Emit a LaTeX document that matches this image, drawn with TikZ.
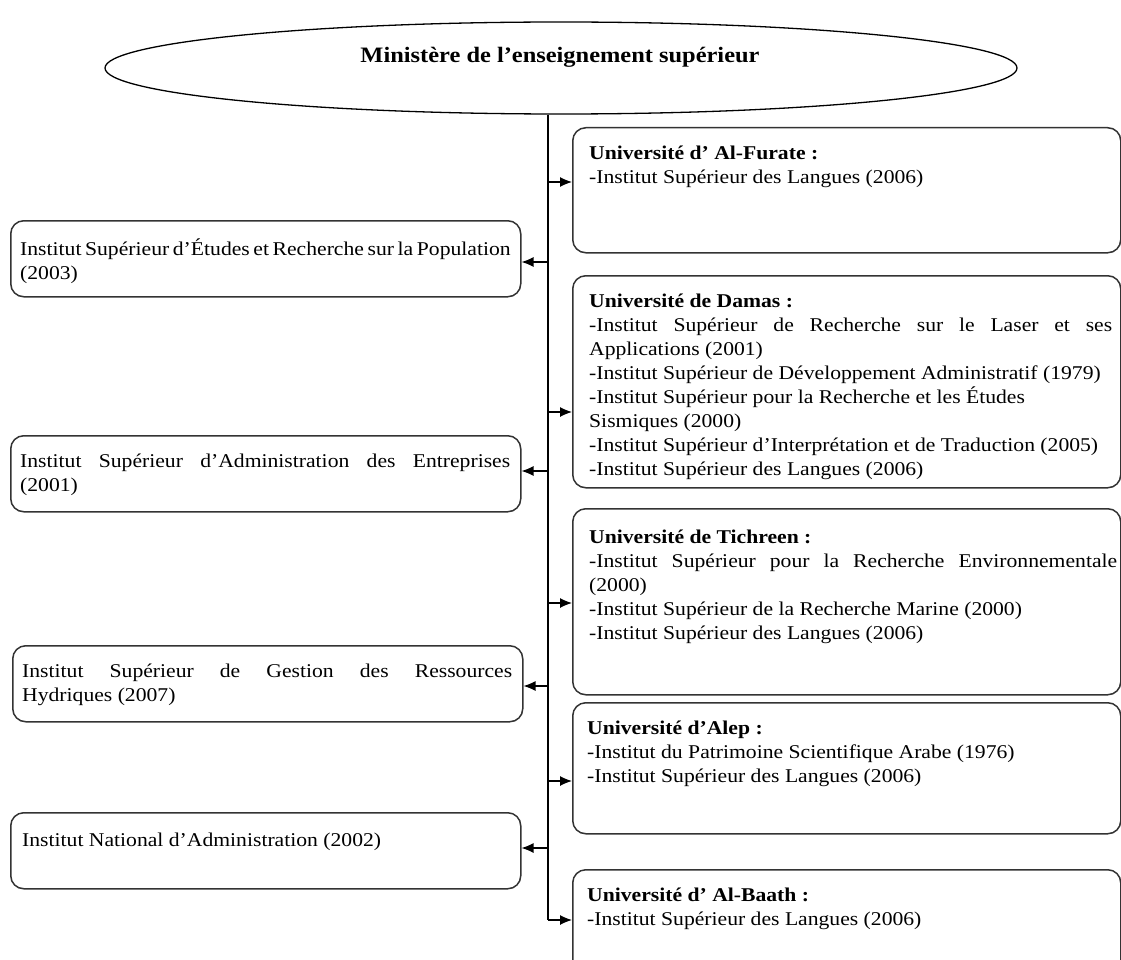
\documentclass[tikz,border=0pt]{standalone}
\usepackage{fontspec}
\setmainfont{Liberation Serif}[FakeStretch=1.11]
\usetikzlibrary{arrows.meta,shapes.geometric}
\begin{document}
\begin{tikzpicture}[x=1pt,y=-1pt,
  box/.style={draw=black!80,line width=1.5pt,rounded corners=13pt,inner sep=0pt,anchor=north west},
  txt/.style={anchor=north west,align=left,inner sep=0pt,font=\fontsize{19.5}{24}\selectfont},
  link/.style={line width=1.2pt,-{Latex[length=12pt,width=10pt]}}]
\useasboundingbox (0,0) rectangle (1121,960);
% top ellipse
\node[draw,ellipse,line width=1.3pt,minimum width=912pt,minimum height=92pt] (min) at (561,68) {};
\node[font=\bfseries\fontsize{22}{26}\selectfont,inner sep=0pt] (mint) at (560,57) {Ministère de l’enseignement supérieur};
% right boxes
\node[box,minimum width=548pt,minimum height=125pt] (r1) at (572,127) {};
\node[box,minimum width=548pt,minimum height=212pt] (r2) at (572,275) {};
\node[box,minimum width=548pt,minimum height=186pt] (r3) at (572,508) {};
\node[box,minimum width=548pt,minimum height=131pt] (r4) at (572,702) {};
\node[box,minimum width=548pt,minimum height=110pt] (r5) at (572,869) {};
% left boxes
\node[box,minimum width=510pt,minimum height=76pt] (l1) at (10,220) {};
\node[box,minimum width=510pt,minimum height=76pt] (l2) at (10,435) {};
\node[box,minimum width=510pt,minimum height=76pt] (l3) at (12,645) {};
\node[box,minimum width=510pt,minimum height=76pt] (l4) at (10,812) {};
% texts right
\node[txt,xshift=17pt,yshift=-19pt] (tr1) at (r1.north west) {\textbf{Université d’ Al-Furate :}\\-Institut Supérieur des Langues (2006)};
\node[txt,xshift=17pt,yshift=-19pt] (tr2) at (r2.north west) {\textbf{Université de Damas :}\\
\makebox[523pt][s]{-Institut Supérieur de Recherche sur le Laser et ses}\\
Applications (2001)\\
-Institut Supérieur de Développement Administratif (1979)\\
-Institut Supérieur pour la Recherche et les Études\\
Sismiques (2000)\\
-Institut Supérieur d’Interprétation et de Traduction (2005)\\
-Institut Supérieur des Langues (2006)};
\node[txt,xshift=17pt,yshift=-22pt] (tr3) at (r3.north west) {\textbf{Université de Tichreen :}\\
\makebox[528pt][s]{-Institut Supérieur pour la Recherche Environnementale}\\
(2000)\\
-Institut Supérieur de la Recherche Marine (2000)\\
-Institut Supérieur des Langues (2006)};
\node[txt,xshift=15pt,yshift=-19pt] (tr4) at (r4.north west) {\textbf{Université d’Alep :}\\
-Institut du Patrimoine Scientifique Arabe (1976)\\
-Institut Supérieur des Langues (2006)};
\node[txt,xshift=15pt,yshift=-19pt] (tr5) at (r5.north west) {\textbf{Université d’ Al-Baath :}\\
-Institut Supérieur des Langues (2006)};
% texts left
\node[txt,xshift=10pt,yshift=-19pt] (tl1) at (l1.north west) {\makebox[490pt][s]{Institut Supérieur d’Études et Recherche sur la Population}\\(2003)};
\node[txt,xshift=10pt,yshift=-19pt] (tl2) at (l2.north west) {\makebox[490pt][s]{Institut Supérieur d’Administration des Entreprises}\\(2001)};
\node[txt,xshift=10pt,yshift=-19pt] (tl3) at (l3.north west) {\makebox[490pt][s]{Institut Supérieur de Gestion des Ressources}\\Hydriques (2007)};
\node[txt,xshift=12pt,yshift=-21pt] (tl4) at (l4.north west) {Institut National d’Administration (2002)};
% trunk
\coordinate (tb) at (548,920);
\draw[line width=1.2pt] (min.south -| tb) -- (tb);
% right links
\coordinate (j1) at (548,182);
\coordinate (j2) at (548,412);
\coordinate (j3) at (548,603);
\coordinate (j4) at (548,781);
\draw[link] (j1) -- (j1 -| r1.west);
\draw[link] (j2) -- (j2 -| r2.west);
\draw[link] (j3) -- (j3 -| r3.west);
\draw[link] (j4) -- (j4 -| r4.west);
\draw[link] (tb) -- (tb -| r5.west);
% left links
\coordinate (k1) at (548,262);
\coordinate (k2) at (548,471);
\coordinate (k3) at (548,686);
\coordinate (k4) at (548,848);
\draw[link] (k1) -- (k1 -| l1.east);
\draw[link] (k2) -- (k2 -| l2.east);
\draw[link] (k3) -- (k3 -| l3.east);
\draw[link] (k4) -- (k4 -| l4.east);
\end{tikzpicture}
\end{document}
